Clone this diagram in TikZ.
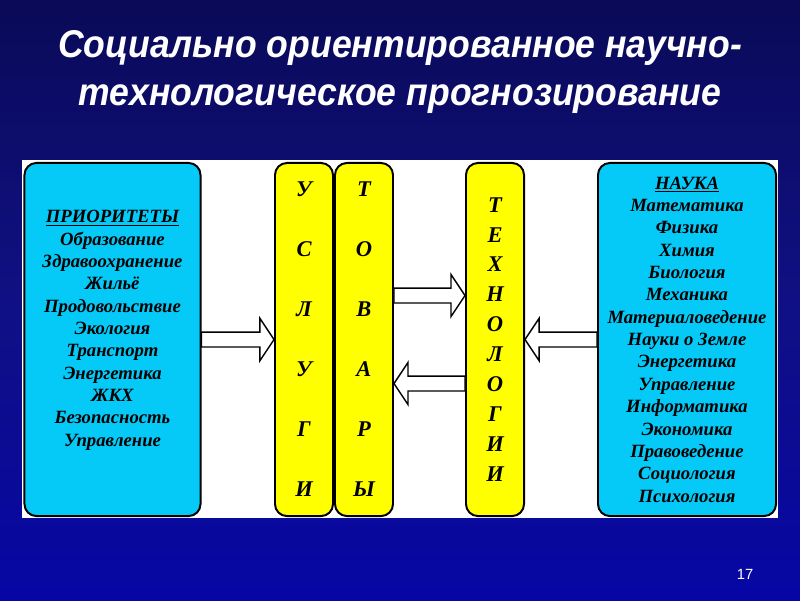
\documentclass[tikz,border=0pt]{standalone}
\usepackage{fontspec}
\setmainfont{Liberation Serif}
\newfontfamily\headfont{Liberation Sans}
\usetikzlibrary{positioning,calc}

\definecolor{bgtop}{RGB}{10,10,88}
\definecolor{bgmid}{RGB}{16,16,132}
\definecolor{bgbot}{RGB}{6,6,165}
\definecolor{boxcyan}{RGB}{5,202,248}
\definecolor{boxyellow}{RGB}{255,255,0}

% hollow block arrow: start point, tip point, direction (1 right, -1 left)
\newcommand\blockarrow[3]{%
  \draw[blk] let \p1=(#1), \p2=(#2) in
    (\x1,{\y1+5.3pt}) -- ({\x2-(#3)*10pt},{\y1+5.3pt}) -- ({\x2-(#3)*10pt},{\y1+15pt})
    -- (\x2,\y1) -- ({\x2-(#3)*10pt},{\y1-15pt}) -- ({\x2-(#3)*10pt},{\y1-5.3pt})
    -- (\x1,{\y1-5.3pt}) -- cycle;}

\begin{document}
\begin{tikzpicture}[
  x=0.025cm, y=-0.025cm,
  side/.style={draw=black, line width=1.4pt, rounded corners=8.5pt, fill=boxcyan,
               align=center, inner sep=0pt, minimum width=4.4cm, minimum height=8.825cm,
               font=\bfseries\itshape\fontsize{13.3}{15.9}\selectfont},
  pillar/.style={side, fill=boxyellow, minimum width=1.45cm,
                 font=\bfseries\itshape\fontsize{16}{42.7}\selectfont},
  blk/.style={draw=black, line width=1pt, fill=white},
  ttl/.style={text=white, align=center,
              font=\headfont\bfseries\itshape\fontsize{27.5}{34}\selectfont},
]
\useasboundingbox (0,0) rectangle (800,600);
% ---- slide background ----
\shade[top color=bgtop, bottom color=bgbot, middle color=bgmid] (0,0) rectangle (800,600);
\fill[white] (22,160) rectangle (778,518);

% ---- title ----
\node[ttl] (title) at (400,72)
  {\scalebox{0.92}[1]{Социально ориентированное научно-}\\
   \scalebox{0.92}[1]{технологическое прогнозирование}};

% ---- priorities (left) ----
\node[side] (prio) at (112.5,339.5)
  {\underline{ПРИОРИТЕТЫ}\\Образование\\Здравоохранение\\Жильё\\Продовольствие\\Экология\\
   Транспорт\\Энергетика\\ЖКХ\\Безопасность\\Управление\\\mbox{}};

% ---- services and goods ----
\node[pillar] (usl) at (304,339.5) {У\\С\\Л\\У\\Г\\И};
\node[pillar, right=0pt of usl] (tov) {Т\\О\\В\\А\\Р\\Ы};

% ---- technologies ----
\node[pillar, font=\bfseries\itshape\fontsize{16}{21.3}\selectfont] (tech) at (495,339.5)
  {Т\\Е\\Х\\Н\\О\\Л\\О\\Г\\И\\И};

% ---- science (right) ----
\node[side, minimum width=4.45cm] (sci) at (687,339.5)
  {\underline{НАУКА}\\Математика\\Физика\\Химия\\Биология\\Механика\\Материаловедение\\
   Науки о Земле\\Энергетика\\Управление\\Информатика\\Экономика\\Правоведение\\
   Социология\\Психология};

% ---- flows ----
\blockarrow{prio.east}{usl.west}{1}
\blockarrow{$(tov.east)+(0,-44)$}{$(tech.west)+(0,-44)$}{1}
\blockarrow{$(tech.west)+(0,44)$}{$(tov.east)+(0,44)$}{-1}
\blockarrow{sci.west}{tech.east}{-1}

% ---- slide number ----
\node[text=white, font=\headfont\fontsize{10.5}{12}\selectfont] (num) at (745,574) {17};
\end{tikzpicture}
\end{document}
